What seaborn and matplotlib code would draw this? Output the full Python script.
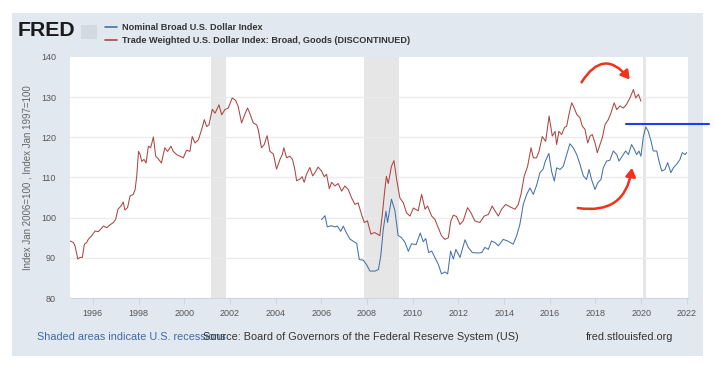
import matplotlib
matplotlib.use("Agg")
import matplotlib.pyplot as plt
import seaborn as sns
import pandas as pd
from matplotlib.patches import Rectangle
from matplotlib.lines import Line2D

# --- data (decimal years) ---
goods_t = [1995.00, 1995.15, 1995.22, 1995.34, 1995.44, 1995.54, 1995.63, 1995.73, 1995.80, 1995.95,
           1996.10, 1996.24, 1996.46, 1996.60, 1996.75, 1996.90, 1997.00, 1997.10, 1997.23, 1997.33,
           1997.40, 1997.52, 1997.63, 1997.77, 1997.85, 1997.92, 1998.00, 1998.07, 1998.14, 1998.24,
           1998.33, 1998.43, 1998.53, 1998.65, 1998.75, 1998.87, 1999.00, 1999.15, 1999.27, 1999.42,
           1999.52, 1999.67, 1999.81, 1999.96, 2000.10, 2000.25, 2000.35, 2000.47, 2000.62, 2000.76,
           2000.88, 2000.98, 2001.08, 2001.23, 2001.35, 2001.52, 2001.64, 2001.78, 2001.93, 2002.10,
           2002.25, 2002.36, 2002.51, 2002.63, 2002.77, 2002.87, 2003.02, 2003.17, 2003.24, 2003.38,
           2003.50, 2003.63, 2003.75, 2003.90, 2004.04, 2004.19, 2004.29, 2004.36, 2004.48, 2004.62,
           2004.74, 2004.84, 2004.92, 2005.06, 2005.16, 2005.25, 2005.35, 2005.50, 2005.62, 2005.72,
           2005.86, 2006.01, 2006.13, 2006.23, 2006.35, 2006.45, 2006.60, 2006.74, 2006.89, 2007.03,
           2007.18, 2007.32, 2007.47, 2007.61, 2007.76, 2007.88, 2008.02, 2008.17, 2008.32, 2008.46,
           2008.56, 2008.67, 2008.78, 2008.85, 2008.93, 2009.07, 2009.18, 2009.30, 2009.44, 2009.59,
           2009.73, 2009.88, 2010.03, 2010.24, 2010.39, 2010.54, 2010.65, 2010.83, 2010.97, 2011.12,
           2011.26, 2011.41, 2011.56, 2011.67, 2011.78, 2011.92, 2012.07, 2012.21, 2012.40, 2012.55,
           2012.72, 2012.94, 2013.13, 2013.31, 2013.48, 2013.60, 2013.75, 2013.89, 2014.07, 2014.26,
           2014.48, 2014.62, 2014.74, 2014.88, 2015.03, 2015.18, 2015.28, 2015.42, 2015.53, 2015.67,
           2015.82, 2015.97, 2016.11, 2016.23, 2016.30, 2016.40, 2016.52, 2016.64, 2016.74, 2016.84,
           2016.96, 2017.07, 2017.18, 2017.32, 2017.42, 2017.54, 2017.66, 2017.76, 2017.86, 2017.98,
           2018.08, 2018.20, 2018.30, 2018.42, 2018.56, 2018.68, 2018.82, 2018.93, 2019.07, 2019.22,
           2019.36, 2019.51, 2019.66, 2019.76, 2019.88, 2019.99]
goods_v = [94.2, 93.8, 93.0, 89.7, 90.1, 90.1, 93.4, 93.8, 94.6, 95.5,
           96.7, 96.5, 97.9, 97.5, 98.2, 98.8, 99.6, 102.1, 102.9, 103.9,
           101.9, 102.5, 105.4, 105.8, 107.0, 110.3, 116.5, 115.7, 114.0, 114.5,
           113.6, 117.8, 117.4, 120.1, 115.3, 114.6, 113.6, 117.4, 116.5, 117.8,
           116.5, 115.7, 115.3, 114.9, 116.8, 116.5, 120.2, 118.6, 119.4, 121.9,
           124.4, 122.7, 123.1, 127.0, 126.0, 128.1, 125.6, 126.9, 127.3, 129.8,
           129.2, 127.7, 123.6, 125.4, 127.3, 126.0, 123.6, 123.1, 121.9, 117.4,
           118.2, 120.4, 116.5, 115.9, 112.1, 114.5, 115.7, 117.4, 114.9, 115.3,
           114.5, 112.0, 109.2, 109.6, 110.2, 108.8, 110.8, 112.5, 110.4, 111.2,
           112.6, 111.6, 110.2, 110.8, 107.2, 108.8, 107.9, 108.5, 106.6, 107.9,
           107.0, 105.0, 103.3, 103.7, 100.8, 98.8, 99.2, 95.9, 96.3, 95.9,
           95.5, 100.8, 107.0, 110.3, 108.5, 112.8, 114.2, 109.4, 104.9, 103.7,
           101.2, 100.4, 102.4, 101.7, 105.8, 102.1, 102.9, 100.4, 99.6, 97.5,
           95.5, 94.6, 95.0, 99.2, 100.6, 100.3, 98.3, 99.2, 102.5, 101.2,
           99.2, 98.8, 100.4, 100.8, 102.9, 101.7, 100.4, 102.1, 103.3, 102.7,
           102.1, 103.3, 105.8, 110.3, 112.8, 117.4, 114.9, 114.9, 116.5, 120.2,
           119.0, 125.3, 120.3, 121.5, 118.2, 121.5, 120.7, 122.4, 122.8, 125.7,
           128.6, 127.3, 125.7, 124.9, 122.8, 122.0, 118.6, 120.3, 120.7, 118.6,
           116.2, 118.2, 119.9, 123.2, 124.4, 126.1, 128.6, 126.9, 127.8, 127.3,
           128.2, 129.8, 131.9, 129.8, 130.7, 129.0]

nominal_t = [2006.01, 2006.16, 2006.26, 2006.45, 2006.60, 2006.70, 2006.85, 2006.96, 2007.10, 2007.25,
             2007.40, 2007.55, 2007.66, 2007.84, 2007.98, 2008.13, 2008.35, 2008.50, 2008.60, 2008.71,
             2008.83, 2008.90, 2009.07, 2009.22, 2009.36, 2009.51, 2009.66, 2009.81, 2009.95, 2010.15,
             2010.33, 2010.46, 2010.57, 2010.70, 2010.83, 2010.97, 2011.12, 2011.26, 2011.41, 2011.53,
             2011.66, 2011.78, 2011.89, 2012.07, 2012.29, 2012.43, 2012.61, 2012.87, 2013.02, 2013.16,
             2013.31, 2013.45, 2013.60, 2013.75, 2013.96, 2014.15, 2014.40, 2014.55, 2014.69, 2014.84,
             2014.99, 2015.13, 2015.28, 2015.42, 2015.57, 2015.71, 2015.80, 2015.96, 2016.08, 2016.20,
             2016.30, 2016.45, 2016.59, 2016.74, 2016.88, 2017.03, 2017.18, 2017.32, 2017.47, 2017.61,
             2017.72, 2017.83, 2017.98, 2018.10, 2018.24, 2018.34, 2018.49, 2018.63, 2018.78, 2018.93,
             2019.03, 2019.17, 2019.32, 2019.44, 2019.58, 2019.70, 2019.80, 2019.90, 2019.99, 2020.09,
             2020.20, 2020.31, 2020.43, 2020.53, 2020.68, 2020.78, 2020.90, 2021.04, 2021.16, 2021.30,
             2021.41, 2021.55, 2021.70, 2021.80, 2021.92, 2021.99]
nominal_v = [99.5, 100.5, 97.7, 98.0, 97.7, 97.9, 96.6, 97.9, 96.2, 94.7,
             94.1, 93.6, 89.6, 89.4, 88.3, 86.7, 86.7, 87.1, 90.4, 97.0,
             101.6, 98.8, 104.6, 101.8, 95.6, 95.0, 93.9, 91.6, 93.5, 93.3,
             96.2, 94.0, 94.8, 91.3, 91.7, 90.1, 88.4, 86.0, 86.5, 86.0,
             91.7, 89.7, 92.1, 90.1, 94.5, 92.6, 91.3, 91.2, 91.3, 92.6,
             92.1, 94.2, 93.8, 93.0, 94.6, 94.2, 93.4, 95.5, 98.3, 103.3,
             105.8, 107.4, 105.8, 108.0, 111.2, 112.1, 114.0, 116.0, 111.5, 109.1,
             112.4, 112.0, 112.8, 115.7, 118.4, 117.4, 115.7, 113.3, 110.4, 109.5,
             112.0, 109.5, 107.0, 108.7, 109.5, 112.4, 114.1, 114.3, 116.6, 115.7,
             114.1, 115.3, 116.6, 115.7, 118.2, 117.0, 115.7, 116.6, 115.3, 120.0,
             122.6, 121.5, 119.1, 116.6, 116.6, 114.1, 111.6, 112.0, 113.7, 111.2,
             112.4, 113.3, 114.5, 116.2, 115.7, 116.2]

recession_start = [2001.16, 2007.88, 2020.06]
recession_end = [2001.82, 2009.38, 2020.21]

year_ticks = list(range(1996, 2023, 2))
value_ticks = [80, 90, 100, 110, 120, 130, 140]

nominal_label = "Nominal Broad U.S. Dollar Index"
goods_label = "Trade Weighted U.S. Dollar Index: Broad, Goods (DISCONTINUED)"

# annotations drawn over the chart (arrows + marker line)
top_arrow = [(2017.39, 133.7), (2019.50, 134.4)]
bottom_arrow = [(2017.23, 102.4), (2019.60, 112.4)]
mark_level = 123.3
mark_span = [2019.33, 2022.95]

df_goods = pd.DataFrame({"date": goods_t, "value": goods_v})
df_nominal = pd.DataFrame({"date": nominal_t, "value": nominal_v})

sns.set_style("white")
plt.rcParams["font.family"] = ["Liberation Sans", "DejaVu Sans"]

BLUE = "#4572A7"
RED = "#AA4643"
PANEL = "#e1e8f0"

fig = plt.figure(figsize=(7.15, 3.66), dpi=100)
W, H = 715, 366
fig.patches.append(Rectangle((12 / W, 1 - 356 / H), 691 / W, 343 / H,
                             transform=fig.transFigure, facecolor=PANEL,
                             edgecolor="none", zorder=-10))

ax = fig.add_axes([70 / W, 1 - 298 / H, 618 / W, 241 / H])
ax.set_zorder(2)
ax.set_facecolor("white")

for s, e in zip(recession_start, recession_end):
    ax.axvspan(s, e, color="#e6e6e6", lw=0, zorder=1)

sns.lineplot(data=df_goods, x="date", y="value", color=RED, linewidth=0.75, ax=ax, zorder=3)
sns.lineplot(data=df_nominal, x="date", y="value", color=BLUE, linewidth=0.75, ax=ax, zorder=3)

ax.set_xlim(1995.0, 2022.05)
ax.set_ylim(80, 140)
ax.set_xticks(year_ticks)
ax.set_xticklabels([str(y) for y in year_ticks])
ax.set_yticks(value_ticks)
for v in value_ticks[1:-1]:
    ax.axhline(v, color="#ebebeb", lw=0.9, zorder=2)

for side in ["top", "right", "left"]:
    ax.spines[side].set_visible(False)
ax.spines["bottom"].set_color("#ccd6eb")
ax.spines["bottom"].set_linewidth(0.8)
ax.tick_params(axis="x", length=4, width=0.8, color="#ccd6eb", labelsize=6.5,
               labelcolor="#555555", pad=4, direction="out", bottom=True)
ax.tick_params(axis="y", length=0, labelsize=6.5, labelcolor="#555555", pad=10)
ax.set_xlabel("")
ax.set_ylabel("Index Jan 2006=100 , Index Jan 1997=100", fontsize=7,
              color="#666666", labelpad=6)

# red curved arrows
ax.annotate("", xy=top_arrow[1], xytext=top_arrow[0],
            arrowprops=dict(arrowstyle="-|>,head_length=0.5,head_width=0.3", color="#f2301c",
                            lw=1.8, connectionstyle="arc3,rad=-0.7", shrinkA=0, shrinkB=0),
            zorder=5)
ax.annotate("", xy=bottom_arrow[1], xytext=bottom_arrow[0],
            arrowprops=dict(arrowstyle="-|>,head_length=0.5,head_width=0.3", color="#f2301c",
                            lw=1.8, connectionstyle="arc3,rad=0.5", shrinkA=0, shrinkB=0),
            zorder=5)
ax.plot(mark_span, [mark_level, mark_level], color="#1f3cf5", lw=1.5, clip_on=False, zorder=6)

# header: FRED logo + legend
fig.text(18 / W, 1 - 30 / H, "FRED", fontsize=15.3, fontweight="bold", color="#1a1a1a",
         va="center", ha="left")
fig.patches.append(Rectangle((81 / W, 1 - 39 / H), 16 / W, 14 / H, transform=fig.transFigure,
                             facecolor="#d3d9e0", edgecolor="none", zorder=1))
handles = [Line2D([], [], color=BLUE, lw=1.2), Line2D([], [], color=RED, lw=1.2)]
leg = fig.legend(handles, [nominal_label, goods_label], loc="upper left",
                 bbox_to_anchor=(105 / W, 1 - 23 / H), frameon=False, fontsize=6.6,
                 handlelength=1.3, handletextpad=0.5, labelspacing=0.42,
                 borderaxespad=0, borderpad=0)
for t in leg.get_texts():
    t.set_color("#333333")
    t.set_fontweight("bold")

# footer
fig.text(37 / W, 1 - 337 / H, "Shaded areas indicate U.S. recessions", fontsize=7.8,
         color="#3e6aa8", va="center", ha="left")
fig.text(203 / W, 1 - 337 / H, "Source: Board of Governors of the Federal Reserve System (US)",
         fontsize=7.8, color="#333333", va="center", ha="left")
fig.text(673 / W, 1 - 337 / H, "fred.stlouisfed.org", fontsize=7.8, color="#333333",
         va="center", ha="right")

fig.savefig("out.png", dpi=100, facecolor="white")
